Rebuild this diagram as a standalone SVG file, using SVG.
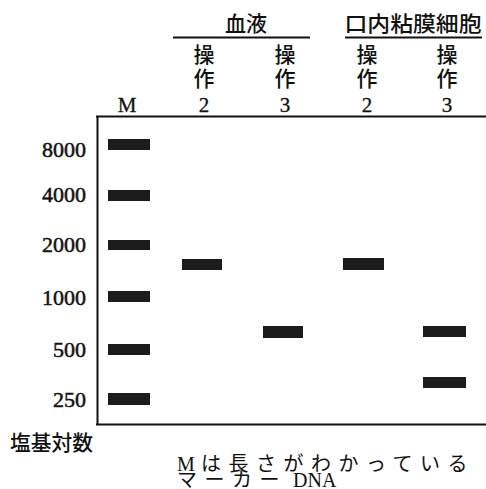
<svg xmlns="http://www.w3.org/2000/svg" width="486" height="489" viewBox="0 0 486 489">
<style>
.num{font-family:"Liberation Serif","Noto Sans CJK JP",serif;font-size:22px;fill:#111;stroke:#111;stroke-width:0.5;text-anchor:end}
.hd{font-family:"Liberation Serif","Noto Sans CJK JP",serif;font-size:21px;fill:#111;stroke:#111;stroke-width:0.3;text-anchor:middle}
.jp{font-family:"Noto Sans CJK JP",sans-serif;font-size:21px;font-weight:500;fill:#111;text-anchor:middle}
.tx{font-family:"Liberation Serif","Noto Sans CJK JP",serif;font-size:20px;fill:#111}
.kana{font-size:20px;letter-spacing:7.5px}
.band{fill:#1c1c1c}
</style>
<rect width="486" height="489" fill="#fff"/>
<g id="header">
<text class="jp" x="246" y="31">血液</text>
<line x1="173" y1="37.5" x2="310" y2="37.5" stroke="#111" stroke-width="2"/>
<text class="jp" x="413" y="31" textLength="137" lengthAdjust="spacingAndGlyphs">口内粘膜細胞</text>
<line x1="345" y1="37.5" x2="482" y2="37.5" stroke="#111" stroke-width="2"/>
<text class="hd" x="127" y="112">M</text>
<g id="lane-blood-2"><text class="jp" x="204" y="62">操</text><text class="jp" x="204" y="86">作</text><text class="hd" x="204" y="112">2</text></g>
<g id="lane-blood-3"><text class="jp" x="285" y="62">操</text><text class="jp" x="285" y="86">作</text><text class="hd" x="285" y="112">3</text></g>
<g id="lane-oral-2"><text class="jp" x="367" y="62">操</text><text class="jp" x="367" y="86">作</text><text class="hd" x="367" y="112">2</text></g>
<g id="lane-oral-3"><text class="jp" x="447" y="62">操</text><text class="jp" x="447" y="86">作</text><text class="hd" x="447" y="112">3</text></g>
</g>
<g id="gel" fill="none" stroke="#111">
<line x1="96" y1="116.5" x2="486" y2="116.5" stroke-width="2"/>
<line x1="97.5" y1="116" x2="97.5" y2="425" stroke-width="2"/>
<line x1="96" y1="424.5" x2="486" y2="424.5" stroke-width="2"/>
</g>
<g id="labels">
<text class="num" x="86" y="157">8000</text>
<text class="num" x="86" y="202">4000</text>
<text class="num" x="86" y="252">2000</text>
<text class="num" x="86" y="305">1000</text>
<text class="num" x="86" y="357">500</text>
<text class="num" x="86" y="407">250</text>
</g>
<g id="bands">
<rect class="band" x="108" y="139" width="42" height="11"/>
<rect class="band" x="108" y="190" width="42" height="11"/>
<rect class="band" x="108" y="240" width="42" height="10"/>
<rect class="band" x="108" y="291" width="42" height="11"/>
<rect class="band" x="108" y="344" width="42" height="11"/>
<rect class="band" x="108" y="393" width="42" height="12"/>
<rect class="band" x="182" y="259" width="40" height="11"/>
<rect class="band" x="263" y="326" width="40" height="12"/>
<rect class="band" x="343" y="258" width="41" height="12"/>
<rect class="band" x="423" y="326" width="43" height="11"/>
<rect class="band" x="423" y="377" width="43" height="11"/>
</g>
<g id="notes">
<text x="10" y="450" textLength="83" lengthAdjust="spacingAndGlyphs" style="font-family:'Noto Sans CJK JP',sans-serif;font-size:21px;font-weight:500;fill:#111">塩基対数</text>
<text class="tx" x="177" y="471">M<tspan x="201" class="kana">は長さがわかっている</tspan></text>
<text class="tx" x="177" y="487"><tspan class="kana" letter-spacing="9">マーカー</tspan><tspan x="293">DNA</tspan></text>
</g>
</svg>
